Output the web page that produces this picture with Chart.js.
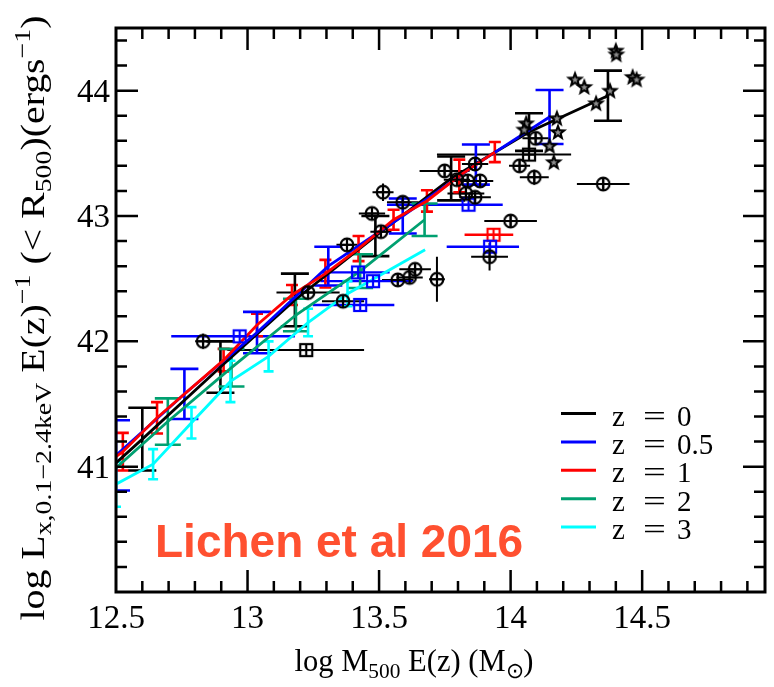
<!DOCTYPE html>
<html>
<head>
<meta charset="utf-8">
<script src="https://cdn.jsdelivr.net/npm/chart.js@4.4.0/dist/chart.umd.min.js"></script>
<style>
  html, body { margin: 0; padding: 0; background: #fff; }
</style>
</head>
<body>
<canvas id="c" width="774" height="687"></canvas>
<script>
// fitted Lx-M relations (log M500 E(z), log Lx), one per redshift, with 1-sigma bars
const mZ0 = [12.5, 12.60, 12.897, 13.18, 13.486, 13.774, 14.07, 14.37];
const lZ0 = [41.03, 41.22, 41.795, 42.33, 42.84, 43.3, 43.67, 43.96];
const eZ0 = [0, 0.25, 0.205, 0.21, 0.16, 0.175, 0.15, 0.2];

const mZ05 = [12.5, 12.76, 13.036, 13.307, 13.59, 13.868, 14.148];
const lZ05 = [41.09, 41.58, 42.07, 42.6, 43.0, 43.41, 43.79];
const eZ05 = [0.28, 0.2, 0.165, 0.155, 0.14, 0.16, 0.215];

const mZ1 = [12.5, 12.526, 12.656, 12.909, 13.036, 13.169, 13.296, 13.422, 13.555, 13.682, 13.805, 13.94];
const lZ1 = [41.08, 41.12, 41.39, 41.85, 42.13, 42.37, 42.54, 42.74, 42.97, 43.12, 43.32, 43.51];
const eZ1 = [0, 0.15, 0.125, 0.09, 0.09, 0.08, 0.11, 0.1, 0.08, 0.085, 0.13, 0.08];

const mZ2 = [12.5, 12.697, 12.939, 13.184, 13.428, 13.673];
const lZ2 = [40.99, 41.36, 41.79, 42.21, 42.56, 42.97];
const eZ2 = [0, 0.185, 0.15, 0.13, 0.135, 0.13];

const mZ3 = [12.5, 12.641, 12.787, 12.935, 13.08, 13.23, 13.38, 13.675];
const lZ3 = [40.86, 41.02, 41.35, 41.68, 41.88, 42.15, 42.38, 42.73];
const eZ3 = [0.18, 0.12, 0.125, 0.165, 0.12, 0.11, 0.1, 0];

const fitZ = ['0', '0.5', '1', '2', '3'];
const fitColors = ['#000000', '#0000ff', '#ff0000', '#00a070', '#00ffff'];

// observed groups (circles)
const grpM = [12.831, 13.23, 13.363, 13.378, 13.473, 13.507, 13.515, 13.59, 13.571, 13.616, 13.637, 13.72,
              13.749, 13.796, 13.837, 13.884, 13.83, 13.865, 13.865, 14.0, 13.92, 14.034, 14.09, 14.095, 14.352];
const grpL = [42.0, 42.39, 42.32, 42.77, 43.02, 42.875, 43.19, 43.11, 42.49, 42.51, 42.575, 42.495,
              43.36, 43.29, 43.28, 43.28, 43.18, 43.15, 43.415, 42.96, 42.675, 43.4, 43.31, 43.62, 43.255];
const grpMErr = [0.03, 0.12, 0.08, 0.04, 0.05, 0.04, 0.04, 0.06, 0.06, 0.05, 0.06, 0.03,
                 0.095, 0.05, 0.06, 0.05, 0.07, 0.06, 0.05, 0.1, 0.07, 0.04, 0.055, 0.05, 0.1];
const grpLErr = [0.06, 0.04, 0.05, 0.04, 0.04, 0.05, 0.07, 0.04, 0.04, 0.05, 0.04, 0.18,
                 0.04, 0.04, 0.04, 0.04, 0.04, 0.04, 0.04, 0.04, 0.11, 0.04, 0.06, 0.04, 0.04];

// stacked bins (squares)
const bsqM = [13.223, 14.07];
const bsqL = [41.93, 43.49];
const bsqMLo = [0.30, 0.35];
const bsqMHi = [0.22, 0.16];

const usqM = [12.97, 13.42, 13.477, 13.428, 13.84, 13.922];
const usqL = [42.04, 42.55, 42.48, 42.29, 43.09, 42.755];
const usqMLo = [0.26, 0.14, 0.2, 0.18, 0.31, 0.165];
const usqMHi = [0.21, 0.12, 0.15, 0.13, 0.13, 0.11];

const rsqM = [13.935];
const rsqL = [42.85];
const rsqMLo = [0.11];
const rsqMHi = [0.075];

// clusters (stars)
const clM = [14.059, 14.052, 14.176, 14.18, 14.148, 14.164, 14.245, 14.28, 14.325, 14.378, 14.4, 14.402, 14.464, 14.479];
const clL = [43.74, 43.69, 43.78, 43.67, 43.56, 43.43, 44.09, 44.03, 43.9, 44.0, 44.32, 44.29, 44.11, 44.09];

const pts = (xs, ys) => xs.map((v, i) => ({ x: v, y: ys[i] }));
const SERIF = '"Liberation Serif", "Times New Roman", serif';

function marker(kind, color) {
  const c = document.createElement('canvas');
  c.width = 24; c.height = 24;
  const g = c.getContext('2d');
  const m = 12;
  g.strokeStyle = color;
  g.lineWidth = 2.2;
  if (kind === 'circle') {
    g.beginPath(); g.arc(m, m, 6.3, 0, Math.PI * 2); g.stroke();
    g.beginPath(); g.moveTo(m - 6, m); g.lineTo(m + 6, m); g.moveTo(m, m - 6); g.lineTo(m, m + 6); g.stroke();
  } else if (kind === 'square') {
    g.strokeRect(m - 6, m - 6, 12, 12);
    g.beginPath(); g.moveTo(m - 6, m); g.lineTo(m + 6, m); g.moveTo(m, m - 6); g.lineTo(m, m + 6); g.stroke();
  } else {
    const star = (R, r) => {
      g.beginPath();
      for (let k = 0; k < 10; k++) {
        const rad = k % 2 ? r : R;
        const a = -Math.PI / 2 + k * Math.PI / 5;
        const px = m + rad * Math.cos(a), py = m + 0.5 + rad * Math.sin(a);
        k ? g.lineTo(px, py) : g.moveTo(px, py);
      }
      g.closePath();
    };
    g.fillStyle = '#000'; star(9.5, 4); g.fill();
    g.fillStyle = '#8c8c8c'; star(3.6, 1.6); g.fill();
  }
  return c;
}

function fitSet(i, ms, ls, es, cap) {
  return {
    label: 'z = ' + fitZ[i], data: pts(ms, ls), showLine: true, fill: false,
    borderColor: fitColors[i], borderWidth: 2.8, pointRadius: 0, tension: 0,
    yErr: es, cap: cap, barColor: fitColors[i], barWidth: 2.6
  };
}

const datasets = [
  { label: 'clusters', data: pts(clM, clL), pointStyle: marker('star', '#000') },
  { label: 'groups', data: pts(grpM, grpL), pointStyle: marker('circle', '#000'),
    xLo: grpMErr, xHi: grpMErr, yErr: grpLErr, cap: 0, barColor: '#000', barWidth: 2 },
  { label: 'stack z0', data: pts(bsqM, bsqL), pointStyle: marker('square', '#000'),
    xLo: bsqMLo, xHi: bsqMHi, cap: 0, barColor: '#000', barWidth: 2 },
  { label: 'stack z0.5', data: pts(usqM, usqL), pointStyle: marker('square', '#0000ff'),
    xLo: usqMLo, xHi: usqMHi, cap: 0, barColor: '#0000ff', barWidth: 2.4 },
  { label: 'stack z1', data: pts(rsqM, rsqL), pointStyle: marker('square', '#ff0000'),
    xLo: rsqMLo, xHi: rsqMHi, cap: 0, barColor: '#ff0000', barWidth: 2.4 },
  fitSet(2, mZ1, lZ1, eZ1, 6),
  fitSet(1, mZ05, lZ05, eZ05, 14),
  fitSet(0, mZ0, lZ0, eZ0, 14),
  fitSet(3, mZ2, lZ2, eZ2, 13),
  fitSet(4, mZ3, lZ3, eZ3, 5)
];

const errorBars = {
  id: 'errorBars',
  beforeDatasetsDraw(chart) {
    const { ctx, chartArea: a, scales: { x, y } } = chart;
    ctx.save();
    ctx.beginPath(); ctx.rect(a.left, a.top, a.width, a.height); ctx.clip();
    chart.data.datasets.forEach(ds => {
      if (!ds.barColor) return;
      ctx.strokeStyle = ds.barColor;
      ctx.lineWidth = ds.barWidth;
      ds.data.forEach((p, i) => {
        const px = x.getPixelForValue(p.x), py = y.getPixelForValue(p.y);
        ctx.beginPath();
        if (ds.yErr && ds.yErr[i]) {
          const t = y.getPixelForValue(p.y + ds.yErr[i]), b = y.getPixelForValue(p.y - ds.yErr[i]);
          ctx.moveTo(px, t); ctx.lineTo(px, b);
          if (ds.cap) {
            ctx.moveTo(px - ds.cap, t); ctx.lineTo(px + ds.cap, t);
            ctx.moveTo(px - ds.cap, b); ctx.lineTo(px + ds.cap, b);
          }
        }
        if (ds.xLo && ds.xLo[i]) {
          ctx.moveTo(x.getPixelForValue(p.x - ds.xLo[i]), py);
          ctx.lineTo(x.getPixelForValue(p.x + ds.xHi[i]), py);
        }
        ctx.stroke();
      });
    });
    ctx.restore();
  }
};

// frame, inward ticks on all four sides, and the tick labels of the library's scales
const frameTicks = {
  id: 'frameTicks',
  afterDraw(chart) {
    const { ctx, chartArea: a, scales: { x, y } } = chart;
    ctx.save();
    ctx.strokeStyle = '#000';
    ctx.lineWidth = 3;
    ctx.strokeRect(a.left, a.top, a.right - a.left, a.bottom - a.top);
    ctx.lineWidth = 2.5;
    ctx.beginPath();
    for (let i = 1; 12.5 + i * 0.1 < x.max; i++) {
      const px = x.getPixelForValue(12.5 + i * 0.1);
      const len = i % 5 === 0 ? 22 : 11;
      ctx.moveTo(px, a.bottom); ctx.lineTo(px, a.bottom - len);
      ctx.moveTo(px, a.top); ctx.lineTo(px, a.top + len);
    }
    for (let i = 1; 40 + i * 0.2 < y.max; i++) {
      const py = y.getPixelForValue(40 + i * 0.2);
      const len = i % 5 === 0 ? 22 : 11;
      ctx.moveTo(a.left, py); ctx.lineTo(a.left + len, py);
      ctx.moveTo(a.right, py); ctx.lineTo(a.right - len, py);
    }
    ctx.stroke();

    ctx.fillStyle = '#000';
    ctx.font = '33px ' + SERIF;
    ctx.textBaseline = 'alphabetic';
    ctx.textAlign = 'center';
    x.ticks.forEach(t => {
      ctx.fillText(String(Number(t.value.toFixed(1))), x.getPixelForValue(t.value), 628);
    });
    ctx.textAlign = 'right';
    y.ticks.forEach(t => {
      if (t.value <= 40) return;
      ctx.fillText(String(t.value), a.left - 6, y.getPixelForValue(t.value) + 11);
    });
    ctx.restore();
  }
};

function drawRich(ctx, parts, size, len) {
  const fontOf = s => (s ? size * 0.7 : size) + 'px ' + SERIF;
  let w = 0;
  parts.forEach(([t, s]) => { ctx.font = fontOf(s); w += ctx.measureText(t).width; });
  ctx.scale(len ? len / w : 1, 1);
  ctx.textAlign = 'left';
  ctx.textBaseline = 'alphabetic';
  let cx = -w / 2;
  parts.forEach(([t, s]) => {
    ctx.font = fontOf(s);
    const dy = s < 0 ? size * 0.22 : s > 0 ? -size * 0.42 : 0;
    ctx.fillText(t, cx, dy);
    cx += ctx.measureText(t).width;
  });
}

const xTitle = [['log M', 0], ['500', -1], [' E(z) (M', 0], ['\u2299', -1], [')', 0]];
const yTitle = [['log L', 0], ['x,0.1\u22122.4keV', -1], [' E(z)', 0], ['\u22121', 1], [' (< R', 0],
                ['500', -1], [')(ergs', 0], ['\u22121', 1], [')', 0]];

const decorations = {
  id: 'decorations',
  afterDraw(chart) {
    const ctx = chart.ctx;
    ctx.save();
    ctx.fillStyle = '#000';
    // axis titles
    ctx.save(); ctx.translate(414, 671); drawRich(ctx, xTitle, 31, 239); ctx.restore();
    ctx.save(); ctx.translate(44, 318); ctx.rotate(-Math.PI / 2); drawRich(ctx, yTitle, 34, 605); ctx.restore();
    // legend
    fitZ.forEach((z, i) => {
      const ly = 413.5 + i * 28.4;
      ctx.strokeStyle = fitColors[i];
      ctx.lineWidth = 3;
      ctx.beginPath(); ctx.moveTo(561, ly); ctx.lineTo(596, ly); ctx.stroke();
      ctx.fillStyle = '#000';
      ctx.font = '29px ' + SERIF;
      ctx.textBaseline = 'alphabetic';
      ctx.textAlign = 'left';
      ctx.fillText('z', 612, ly + 12);
      ctx.save(); ctx.translate(643, ly + 12); ctx.scale(1.4, 1); ctx.fillText('=', 0, 0); ctx.restore();
      ctx.fillText(z, 677, ly + 12);
    });
    // annotation
    ctx.fillStyle = '#ff5030';
    ctx.font = 'bold 46px "Liberation Sans", Arial, sans-serif';
    ctx.textAlign = 'left';
    ctx.fillText('Lichen et al 2016', 155, 557);
    ctx.restore();
  }
};

new Chart(document.getElementById('c'), {
  type: 'scatter',
  data: { datasets },
  options: {
    responsive: false,
    animation: false,
    layout: { padding: { top: 28, right: 9, left: 0, bottom: 0 } },
    plugins: { legend: { display: false }, tooltip: { enabled: false } },
    scales: {
      x: {
        type: 'linear', min: 12.5, max: 14.967,
        afterFit(s) { s.height = 95; },
        grid: { display: false }, border: { display: false },
        ticks: { display: false, stepSize: 0.5, includeBounds: false }
      },
      y: {
        type: 'linear', min: 40, max: 44.5,
        afterFit(s) { s.width = 116; },
        grid: { display: false }, border: { display: false },
        ticks: { display: false, stepSize: 1, includeBounds: false }
      }
    }
  },
  plugins: [errorBars, frameTicks, decorations]
});
</script>
</body>
</html>
